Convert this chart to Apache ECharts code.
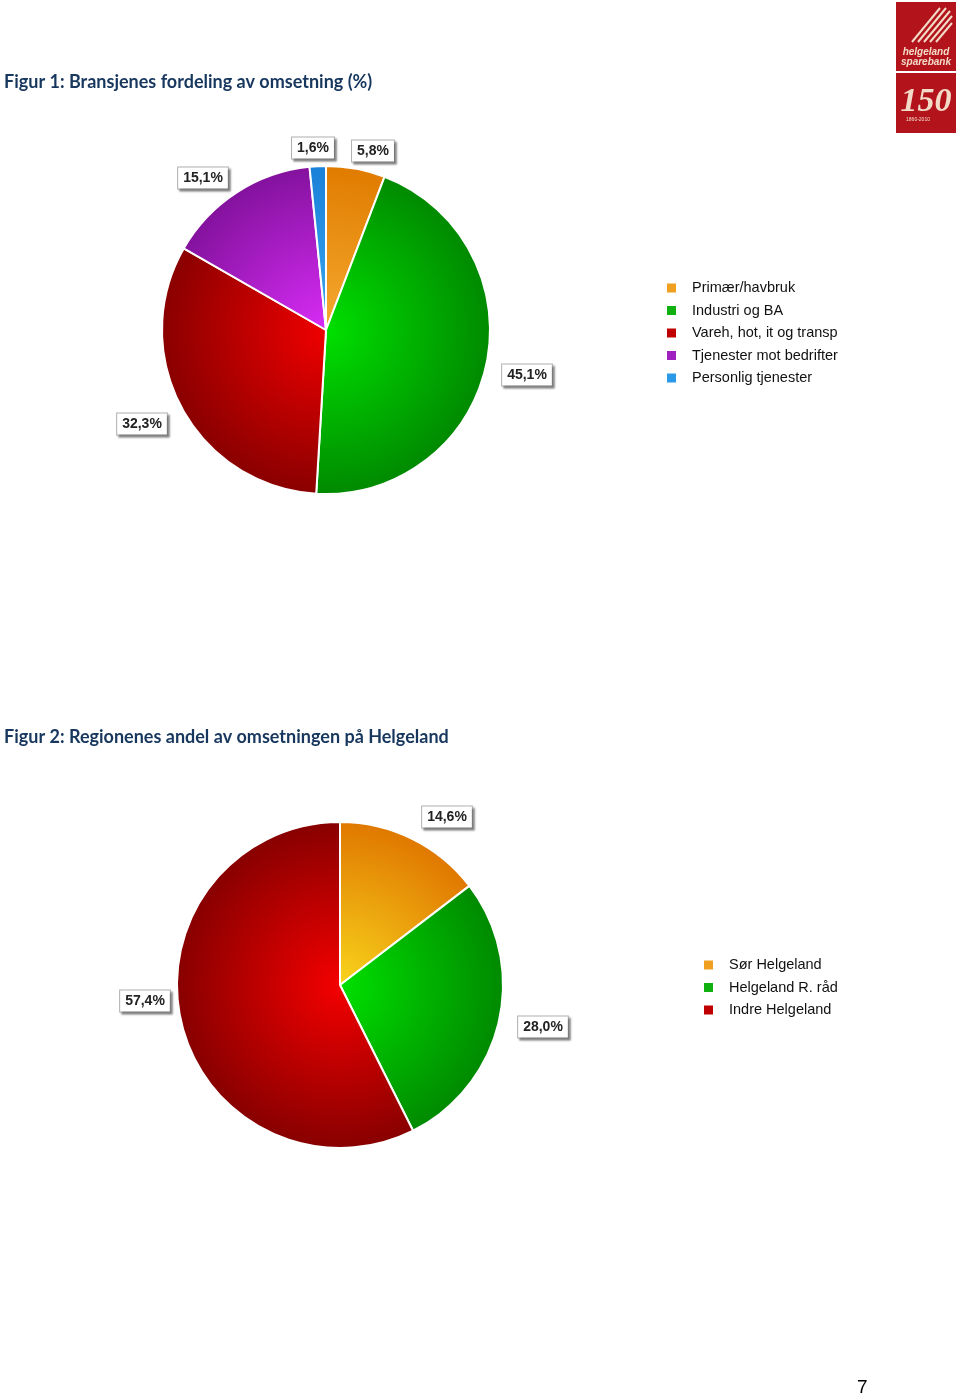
<!DOCTYPE html>
<html>
<head>
<meta charset="utf-8">
<script src="https://cdn.jsdelivr.net/npm/echarts@6/dist/echarts.min.js"></script>
<style>
html,body{margin:0;padding:0;background:#fff;}
#c{width:960px;height:1399px;}
</style>
</head>
<body>
<div id="c"></div>
<script>
const cats1 = ['Primær/havbruk', 'Industri og BA', 'Vareh, hot, it og transp', 'Tjenester mot bedrifter', 'Personlig tjenester'];
const vals1 = [5.8, 45.1, 32.3, 15.1, 1.6];
const cats2 = ['Sør Helgeland', 'Helgeland R. råd', 'Indre Helgeland'];
const vals2 = [14.6, 28.0, 57.4];
const title1 = 'Figur 1: Bransjenes fordeling av omsetning (%)';
const title2 = 'Figur 2: Regionenes andel av omsetningen på Helgeland';

// styling (not data)
const C1 = [326, 330], R1 = 164;
const C2 = [340, 985], R2 = 163;
const grad1 = [['#f4aa30', '#e07c00'], ['#00e000', '#008a00'], ['#f00000', '#8a0000'], ['#d82cf6', '#84129e'], ['#3aa8f0', '#1a80d8']];
const grad2 = [['#f8d41c', '#e07800'], ['#00e000', '#008a00'], ['#f40000', '#880000']];
const legCol1 = ['#f0a020', '#10b010', '#c00000', '#a020c0', '#2a9ae8'];
const legCol2 = ['#f0a020', '#10b010', '#c00000'];
const labelPos1 = [[373, 151], [527, 375], [142, 424], [203, 178], [313, 148]];
const labelPos2 = [[447, 817], [543, 1027], [145, 1001]];

function radial(c, r, stops) {
  return { type: 'radial', x: c[0], y: c[1], r: r, global: true,
    colorStops: [{ offset: 0, color: stops[0] }, { offset: 1, color: stops[1] }] };
}
function mkData(cats, vals, c, r, g) {
  return cats.map((n, i) => ({ name: n, value: vals[i], itemStyle: { color: radial(c, r, g[i]) } }));
}
const labelStyle = {
  show: true,
  formatter: p => p.value.toFixed(1).replace('.', ',') + '%',
  fontFamily: 'Liberation Sans, Arial, sans-serif',
  fontWeight: 'bold',
  fontSize: 14,
  color: '#222',
  backgroundColor: '#fff',
  borderColor: '#b0b0b0',
  borderWidth: 1,
  padding: [4, 5, 3, 5],
  shadowColor: 'rgba(0,0,0,0.35)',
  shadowBlur: 2,
  shadowOffsetX: 2,
  shadowOffsetY: 2
};
const legendText = { fontFamily: 'Liberation Sans, Arial, sans-serif', fontSize: 14.5, color: '#111', lineHeight: 20, padding: [0, 0, 0, 10] };
const titleText = { fontFamily: 'Lato, Open Sans, sans-serif', fontWeight: 'bold', fontSize: 18, color: '#17375e' };

const chart = echarts.init(document.getElementById('c'), null, { renderer: 'canvas' });
chart.setOption({
  animation: false,
  title: [
    { text: title1, left: 4, top: 73, padding: 0, textStyle: titleText },
    { text: title2, left: 4, top: 728, padding: 0, textStyle: titleText }
  ],
  legend: [
    { orient: 'vertical', left: 665, top: 278, padding: 0, itemWidth: 11, itemHeight: 11, itemGap: 2.5, icon: 'rect',
      selectedMode: false, textStyle: legendText,
      data: cats1.map((n, i) => ({ name: n, itemStyle: { color: legCol1[i] } })) },
    { orient: 'vertical', left: 702, top: 955, padding: 0, itemWidth: 11, itemHeight: 11, itemGap: 2.5, icon: 'rect',
      selectedMode: false, textStyle: legendText,
      data: cats2.map((n, i) => ({ name: n, itemStyle: { color: legCol2[i] } })) }
  ],
  series: [
    { type: 'pie', center: C1, radius: R1, startAngle: 90, clockwise: true,
      itemStyle: { borderColor: '#fff', borderWidth: 2 },
      label: labelStyle, labelLine: { show: false },
      labelLayout: p => ({ x: labelPos1[p.dataIndex][0], y: labelPos1[p.dataIndex][1], align: 'center', verticalAlign: 'middle' }),
      data: mkData(cats1, vals1, C1, R1, grad1) },
    { type: 'pie', center: C2, radius: R2, startAngle: 90, clockwise: true,
      itemStyle: { borderColor: '#fff', borderWidth: 2 },
      label: labelStyle, labelLine: { show: false },
      labelLayout: p => ({ x: labelPos2[p.dataIndex][0], y: labelPos2[p.dataIndex][1], align: 'center', verticalAlign: 'middle' }),
      data: mkData(cats2, vals2, C2, R2, grad2) }
  ],
  graphic: [
    { type: 'group', left: 896, top: 2, children: [
      { type: 'rect', shape: { x: 0, y: 0, width: 60, height: 69 }, style: { fill: '#b3141c' } },
      { type: 'polyline', shape: { points: [[16, 40], [44, 6]] }, style: { stroke: '#f2dcc8', lineWidth: 2 } },
      { type: 'polyline', shape: { points: [[22, 40], [50, 6]] }, style: { stroke: '#f2dcc8', lineWidth: 2 } },
      { type: 'polyline', shape: { points: [[28, 40], [54, 9]] }, style: { stroke: '#f2dcc8', lineWidth: 2 } },
      { type: 'polyline', shape: { points: [[34, 40], [56, 14]] }, style: { stroke: '#f2dcc8', lineWidth: 2 } },
      { type: 'polyline', shape: { points: [[40, 40], [56, 21]] }, style: { stroke: '#f2dcc8', lineWidth: 2 } },
      { type: 'text', x: 30, y: 50, style: { text: 'helgeland', align: 'center', verticalAlign: 'middle', fill: '#f2dcc8', font: 'italic bold 10px Liberation Sans, sans-serif' } },
      { type: 'text', x: 30, y: 60, style: { text: 'sparebank', align: 'center', verticalAlign: 'middle', fill: '#f2dcc8', font: 'italic bold 10px Liberation Sans, sans-serif' } },
      { type: 'rect', shape: { x: 0, y: 71, width: 60, height: 60 }, style: { fill: '#b3141c' } },
      { type: 'text', x: 30, y: 100, style: { text: '150', align: 'center', verticalAlign: 'middle', fill: '#f2dcc8', font: 'italic bold 34px Liberation Serif, serif' } },
      { type: 'text', x: 22, y: 118, style: { text: '1860-2010', align: 'center', verticalAlign: 'middle', fill: '#f2dcc8', font: '5px Liberation Sans, sans-serif' } }
    ]},
    { type: 'text', left: 857, top: 1378, style: { text: '7', fill: '#000', font: '19px Liberation Sans, sans-serif' } }
  ]
});
</script>
</body>
</html>
